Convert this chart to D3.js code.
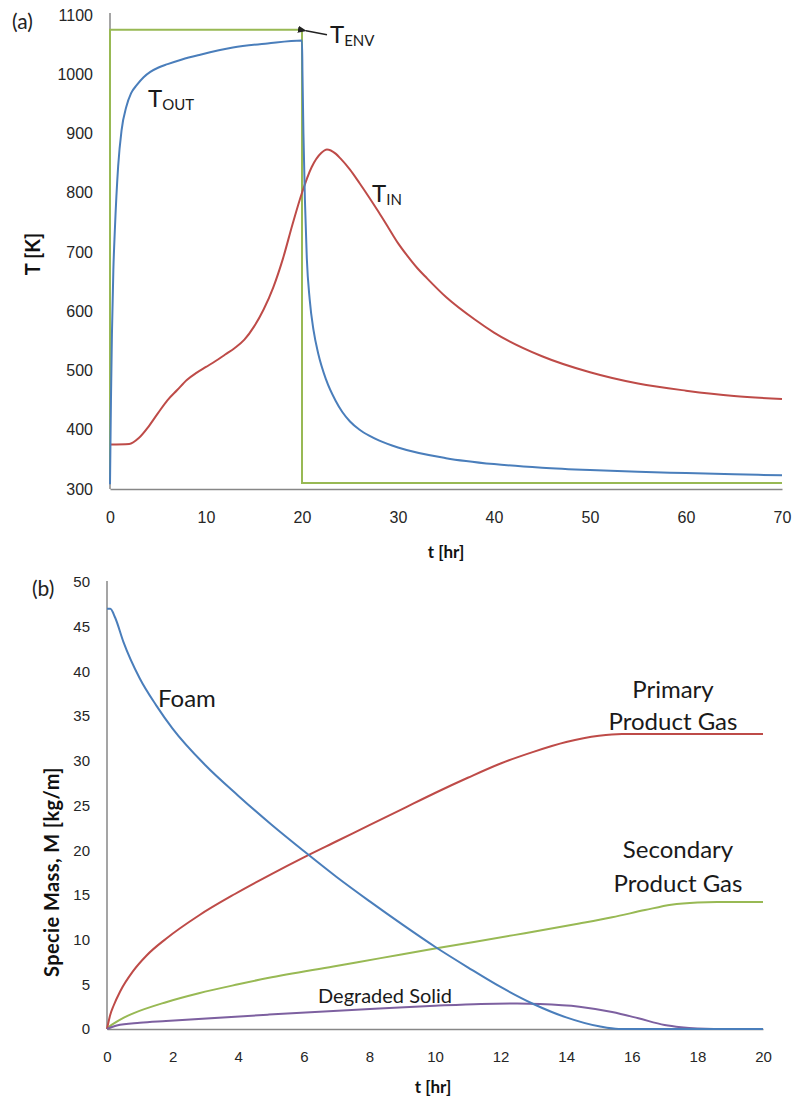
<!DOCTYPE html>
<html>
<head>
<meta charset="utf-8">
<script src="https://cdn.jsdelivr.net/npm/d3@7"></script>
<style>
  body { margin: 0; background: #fff; }
  svg { display: block; font-family: Lato, "Open Sans", sans-serif; }
  .tick-label { fill: #262626; }
  .axis-title { font-weight: bold; fill: #111; }
  .note { fill: #1a1a1a; }
</style>
</head>
<body>
<div id="chart"></div>
<script>
// panel (a): temperatures [t hr, T K]
const tEnv = [[0, 310], [0, 1075], [20, 1075], [20, 310], [70, 310]];
const tOut = [[0, 308], [0.05, 380], [0.1, 450], [0.2, 560], [0.35, 670], [0.5, 735], [0.85, 845], [1.2, 905],
  [1.7, 945], [2.2, 968], [2.8, 982], [3.5, 995], [4.2, 1004], [5, 1011], [6, 1017], [7.5, 1025], [9.4, 1033],
  [12.8, 1045], [16.4, 1052], [20, 1057],
  [20.05, 1000], [20.15, 900], [20.3, 790], [20.5, 690], [20.8, 620], [21.2, 568], [21.7, 528], [22.5, 485],
  [23.5, 449], [24.2, 430], [25, 414], [26, 400], [27, 390], [28, 382], [30, 370], [35, 352], [40, 342],
  [45, 336], [50, 332], [55, 329], [60, 327], [65, 325], [70, 323]];
const tIn = [[0, 375], [2, 376], [3, 386], [4, 405], [5, 428], [6, 450], [7, 467], [8, 484], [9, 496], [10, 506],
  [11, 516], [12, 527], [13, 538], [14, 552], [15, 574], [16, 603], [17, 640], [18, 688], [19, 746], [20, 800],
  [21, 843], [22, 867], [22.6, 873], [23.5, 866], [24, 858], [25, 839], [26, 816], [27, 792], [28, 767],
  [29, 741], [30, 715], [31, 693], [32, 673], [33, 656], [35, 624], [38, 586], [40, 564], [45, 524],
  [50, 497], [55, 478], [60, 466], [65, 457], [70, 452]];
const aXTicks = [0, 10, 20, 30, 40, 50, 60, 70];
const aYTicks = [300, 400, 500, 600, 700, 800, 900, 1000, 1100];

// panel (b): specie mass [t hr, M kg/m]
const foam = [[0, 47], [0.1, 47], [0.25, 46], [0.5, 43.3], [1, 39.2], [1.5, 36.2], [2, 33.6], [3, 29.5], [4, 26.1],
  [5, 22.9], [6, 19.9], [7, 17.0], [8, 14.3], [9, 11.7], [10, 9.2], [11, 6.9], [12, 4.7], [13, 2.8], [14, 1.3],
  [15, 0.3], [15.6, 0], [20, 0]];
const primaryGas = [[0, 0], [0.1, 1.6], [0.2, 2.6], [0.4, 4.2], [0.8, 6.5], [1.2, 8.2], [1.8, 10.1], [2.8, 12.7],
  [3.9, 15.1], [5, 17.3], [6, 19.2], [7, 21.0], [8, 22.8], [9, 24.6], [10, 26.4], [11, 28.1], [12, 29.7],
  [13, 31.0], [14, 32.1], [15, 32.8], [15.7, 33.0], [20, 33.0]];
const secondaryGas = [[0, 0], [0.1, 0.35], [0.2, 0.6], [0.5, 1.25], [0.8, 1.75], [1.8, 3.0], [2.8, 4.0], [4, 5.0],
  [4.9, 5.7], [6.9, 7.0], [8.3, 7.9], [10, 9.0], [12.4, 10.5], [14.4, 11.8], [15.4, 12.5], [16.4, 13.3],
  [17.2, 13.9], [18, 14.15], [18.6, 14.2], [20, 14.2]];
const degradedSolid = [[0, 0], [0.3, 0.4], [1, 0.7], [1.8, 0.9], [4.9, 1.6], [8.3, 2.3], [10, 2.6], [11.4, 2.8],
  [12.5, 2.85], [13.2, 2.8], [14.4, 2.5], [15.4, 1.9], [16.2, 1.2], [17, 0.45], [17.5, 0.2], [18, 0.05],
  [18.5, 0], [20, 0]];
const bXTicks = [0, 2, 4, 6, 8, 10, 12, 14, 16, 18, 20];
const bYTicks = [0, 5, 10, 15, 20, 25, 30, 35, 40, 45, 50];

const blue = "#4a7ebb", red = "#be4b48", green = "#98b954", purple = "#7d60a0", axisGray = "#878787";

const svg = d3.select("#chart").append("svg").attr("width", 795).attr("height", 1097);

function drawPanel(opt) {
  const x = d3.scaleLinear().domain(opt.xDomain).range(opt.xRange);
  const y = d3.scaleLinear().domain(opt.yDomain).range(opt.yRange);
  const g = svg.append("g");

  // axes: plain lines, no tick marks, like the spreadsheet chart
  g.append("g").attr("transform", `translate(0,${opt.yRange[0]})`)
    .call(d3.axisBottom(x).tickValues(opt.xTicks).tickFormat(d3.format("d")).tickSize(0).tickPadding(opt.xPad))
    .call(a => a.select(".domain").attr("stroke", axisGray).attr("stroke-width", 1.5))
    .call(a => a.selectAll("text").attr("class", "tick-label").style("font-size", opt.tickSize + "px").attr("dy", "0.32em"));
  g.append("g").attr("transform", `translate(${opt.xRange[0]},0)`)
    .call(d3.axisLeft(y).tickValues(opt.yTicks).tickFormat(d3.format("d")).tickSize(0).tickPadding(opt.yPad))
    .call(a => a.select(".domain").attr("stroke", axisGray).attr("stroke-width", 1.5)
      .attr("d", `M0,${opt.yRange[0]}V${opt.yTop}`))
    .call(a => a.selectAll("text").attr("class", "tick-label").style("font-size", opt.tickSize + "px"));
  g.selectAll(".domain").attr("fill", "none");

  const line = d3.line().x(d => x(d[0])).y(d => y(d[1])).curve(d3.curveMonotoneX);
  opt.series.forEach(s => {
    g.append("path").datum(s.data)
      .attr("fill", "none")
      .attr("stroke", s.color)
      .attr("stroke-width", 2)
      .attr("d", s.step ? d3.line().x(d => x(d[0])).y(d => y(d[1]))(s.data) : line(s.data));
  });
  return { x, y, g };
}

// ---------- (a) ----------
const a = drawPanel({
  xDomain: [0, 70], xRange: [110, 782],
  yDomain: [300, 1100], yRange: [489, 15], yTop: 13,
  xTicks: aXTicks, yTicks: aYTicks, tickSize: 16, xPad: 29, yPad: 17,
  series: [
    { data: tEnv, color: green, step: true },
    { data: tIn, color: red },
    { data: tOut, color: blue }
  ]
});

svg.append("text").attr("x", 12).attr("y", 29).style("font-size", "21px").attr("fill", "#222").text("(a)");

svg.append("text").attr("class", "axis-title")
  .attr("transform", "translate(40,254) rotate(-90)")
  .attr("text-anchor", "middle").style("font-size", "20px").text("T [K]");

svg.append("clipPath").attr("id", "cut-a").append("rect").attr("x", 0).attr("y", 500).attr("width", 795).attr("height", 61);
svg.append("text").attr("class", "axis-title").attr("clip-path", "url(#cut-a)")
  .attr("x", 446).attr("y", 558).attr("text-anchor", "middle").style("font-size", "17px").text("t [hr]");

function subLabel(px, py, main, sub, mainSize, subSize) {
  const t = svg.append("text").attr("class", "note").attr("x", px).attr("y", py).style("font-size", mainSize + "px");
  t.append("tspan").text(main);
  t.append("tspan").attr("dy", "0.22em").style("font-size", subSize + "px").text(sub);
}
subLabel(148, 107, "T", "OUT", 24, 15);
subLabel(372, 202, "T", "IN", 24, 15);
subLabel(330, 43, "T", "ENV", 24, 15);

// arrow pointing at the corner of T_ENV
svg.append("defs").append("marker").attr("id", "head")
  .attr("viewBox", "0 0 10 10").attr("refX", 1).attr("refY", 5)
  .attr("markerWidth", 6).attr("markerHeight", 6).attr("orient", "auto-start-reverse")
  .append("path").attr("d", "M10,1L0,5L10,9Z").attr("fill", "#222");
svg.append("line")
  .attr("x1", a.x(20) + 4).attr("y1", a.y(1075) + 1)
  .attr("x2", a.x(20) + 25).attr("y2", a.y(1075) + 5)
  .attr("stroke", "#222").attr("stroke-width", 1.5).attr("marker-start", "url(#head)");

// ---------- (b) ----------
const b = drawPanel({
  xDomain: [0, 20], xRange: [107, 763],
  yDomain: [0, 50], yRange: [1029, 582], yTop: 581,
  xTicks: bXTicks, yTicks: bYTicks, tickSize: 15, xPad: 28, yPad: 17,
  series: [
    { data: secondaryGas, color: green },
    { data: primaryGas, color: red },
    { data: degradedSolid, color: purple },
    { data: foam, color: blue }
  ]
});

svg.append("text").attr("x", 32).attr("y", 596).style("font-size", "21px").attr("fill", "#222").text("(b)");

svg.append("text").attr("class", "axis-title")
  .attr("transform", "translate(59,872) rotate(-90)")
  .attr("text-anchor", "middle").style("font-size", "20px").style("letter-spacing", "0.4px")
  .text("Specie Mass, M [kg/m]");

svg.append("text").attr("class", "axis-title")
  .attr("x", 433).attr("y", 1093).attr("text-anchor", "middle").style("font-size", "17px").text("t [hr]");

svg.append("text").attr("class", "note").attr("x", 158).attr("y", 707).style("font-size", "24px").text("Foam");
[["Primary", 673, 698], ["Product Gas", 673, 730], ["Secondary", 678, 858], ["Product Gas", 678, 892]].forEach(d => {
  svg.append("text").attr("class", "note").attr("x", d[1]).attr("y", d[2])
    .attr("text-anchor", "middle").style("font-size", "24px").text(d[0]);
});
svg.append("text").attr("class", "note").attr("x", 318).attr("y", 1003).style("font-size", "20px").text("Degraded Solid");
</script>
</body>
</html>
